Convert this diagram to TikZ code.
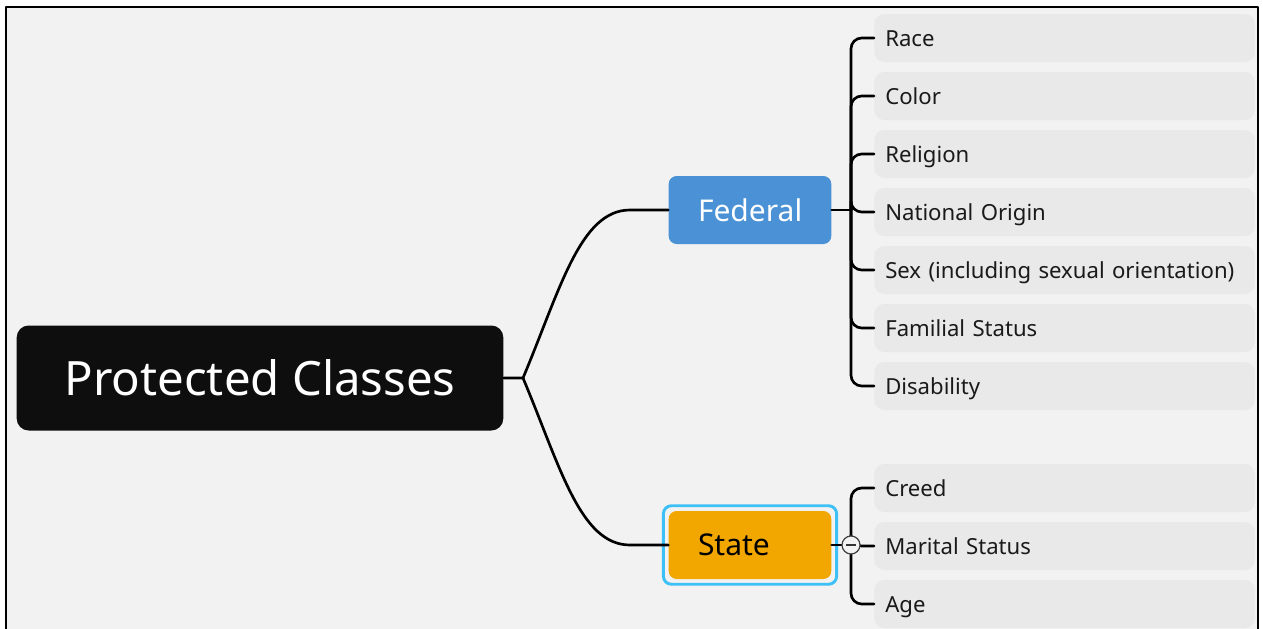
\documentclass[tikz,border=0pt]{standalone}
\usepackage{fontspec}
\setmainfont{Noto Sans}
\usetikzlibrary{positioning}
\definecolor{bggray}{HTML}{F2F2F2}
\definecolor{leafgray}{HTML}{E9E9E9}
\definecolor{fedblue}{HTML}{4A91D5}
\definecolor{stateorange}{HTML}{F2A600}
\definecolor{selblue}{HTML}{3CC0F5}
\definecolor{rootblack}{HTML}{0E0E0E}
\definecolor{textdark}{HTML}{1A1A1A}

\tikzset{
  rootnode/.style={fill=rootblack,text=white,rounded corners=9pt,minimum width=365pt,minimum height=78.75pt,font=\fontsize{35.5}{40}\selectfont},
  branch/.style={rounded corners=6pt,text width=78pt,inner xsep=22pt,align=left,minimum height=51pt,font=\fontsize{22.5}{26}\selectfont},
  leaf/.style={fill=leafgray,text=textdark,rounded corners=7.5pt,text width=269pt,inner xsep=8.25pt,align=left,minimum height=36pt,text height=12.6pt,text depth=0.5pt,font=\fontsize{16.6}{19}\selectfont},
  link/.style={line width=2pt,line cap=round},
}

\begin{document}
\begin{tikzpicture}[x=0.75pt,y=-0.75pt,line join=round,node distance=7.1pt]
  \useasboundingbox (0,0) rectangle (1263,628);
  % frame
  \begin{scope}
    \clip (0,0) rectangle (1263,628);
    \fill[white] (0,0) rectangle (1263,628);
    \draw[fill=bggray,line width=2.2pt] (6,7) rectangle (1258,650);
  \end{scope}

  % main nodes
  \node[rootnode] (root) at (260,378) {Protected Classes};
  \node[branch,fill=fedblue,text=white] (fed) at (750,210) {Federal};
  \node[branch,fill=stateorange,text=black] (state) at (750,545) {State};
  \draw[selblue,line width=2.2pt,rounded corners=6pt]
    ([shift={(-3.75pt,3.75pt)}]state.north west) rectangle ([shift={(3.75pt,-3.75pt)}]state.south east);

  % federal leaves
  \node[leaf,anchor=west] (race) at (874,38) {Race};
  \node[leaf,below=of race] (color) {Color};
  \node[leaf,below=of color] (religion) {Religion};
  \node[leaf,below=of religion] (origin) {National Origin};
  \node[leaf,below=of origin] (sex) {Sex (including sexual orientation)};
  \node[leaf,below=of sex] (familial) {Familial Status};
  \node[leaf,below=of familial] (disability) {Disability};

  % state leaves
  \node[leaf,anchor=west] (creed) at (874,488) {Creed};
  \node[leaf,below=of creed] (marital) {Marital Status};
  \node[leaf,below=of marital] (age) {Age};

  % connectors
  \coordinate (rootjoin) at (523,378);
  \coordinate (fedin) at (630,210);
  \coordinate (statein) at (630,545);
  \coordinate (fedjoin) at (851,210);
  \coordinate (statejoin) at (851,545);
  \draw[link] (root.east) -- (rootjoin) .. controls +(37,-88) and +(-50,0) .. (fedin) -- (fed.west);
  \draw[link] (rootjoin) .. controls +(37,88) and +(-50,0) .. (statein) -- (state.west);
  \draw[link] (fed.east) -- (fedjoin);
  \foreach \leafname in {race,color,religion,origin,sex,familial,disability}
    \draw[link,rounded corners=8pt] (fedjoin) |- (\leafname.west);
  \draw[link] (state.east) -- (statejoin);
  \foreach \leafname in {creed,marital,age}
    \draw[link,rounded corners=8pt] (statejoin) |- (\leafname.west);

  % fold button
  \node[circle,draw=black!75,fill=bggray,line width=0.9pt,minimum size=13.5pt,inner sep=0pt] (fold) at (statejoin) {};
  \draw[black!80,line width=0.9pt] ([xshift=-3.8pt]fold.center) -- ([xshift=3.8pt]fold.center);
\end{tikzpicture}
\end{document}
